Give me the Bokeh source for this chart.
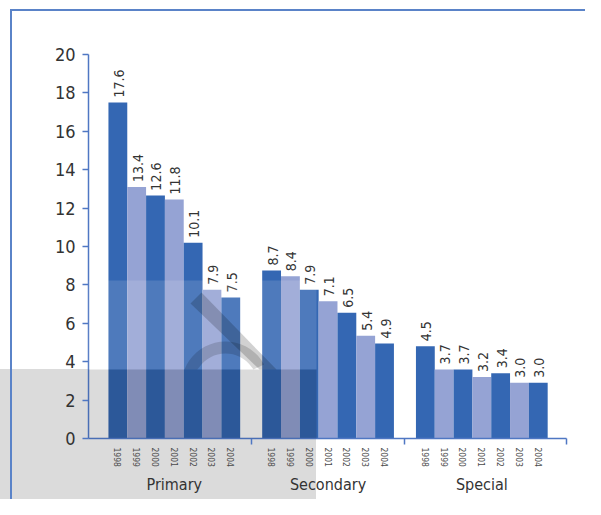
import numpy as np
from bokeh.plotting import figure
from bokeh.models import (ColumnDataSource, Range1d, LinearAxis, FixedTicker, LabelSet,
                          BoxAnnotation, PolyAnnotation)
from bokeh.core.properties import value
from bokeh.embed import file_html
from bokeh.resources import INLINE

# ---------------- data ----------------
groups = ["Primary", "Secondary", "Special"]
years = ["1998", "1999", "2000", "2001", "2002", "2003", "2004"]

# bar heights as drawn
primary = [17.5, 13.1, 12.65, 12.45, 10.2, 7.75, 7.35]
secondary = [8.75, 8.45, 7.75, 7.15, 6.55, 5.35, 4.95]
special = [4.8, 3.6, 3.6, 3.2, 3.4, 2.9, 2.9]

# printed value labels
primary_labels = ["17.6", "13.4", "12.6", "11.8", "10.1", "7.9", "7.5"]
secondary_labels = ["8.7", "8.4", "7.9", "7.1", "6.5", "5.4", "4.9"]
special_labels = ["4.5", "3.7", "3.7", "3.2", "3.4", "3.0", "3.0"]

y_ticks = [0, 2, 4, 6, 8, 10, 12, 14, 16, 18, 20]

# ---------------- style ----------------
DARK = "#3467b3"
LIGHT = "#95a3d4"
AXIS = "#4f77c3"
TEXT = "#333333"
FONT = "DejaVu Sans Condensed, Roboto, sans-serif"

GAP = 1.17
LPAD = 1.06
RPAD = 1.0
n = len(years)
span = n + GAP

xs, tops, labs, cols = [], [], [], []
for g, (vals, lbls) in enumerate(zip([primary, secondary, special],
                                     [primary_labels, secondary_labels, special_labels])):
    for i, (v, l) in enumerate(zip(vals, lbls)):
        xs.append(g * span + i + 0.5)
        tops.append(v)
        labs.append(l)
        cols.append(DARK if i % 2 == 0 else LIGHT)

source = ColumnDataSource(dict(x=xs, top=tops, label=labs, color=cols))
year_of_tick = {x: years[k % n] for k, x in enumerate(xs)}
group_centers = [g * span + n / 2 for g in range(len(groups))]
separators = [n + GAP / 2, 2 * n + 1.5 * GAP, len(groups) * n + (len(groups) - 1) * GAP + RPAD]
x_end = separators[-1]

p = figure(width=585, height=499,
           x_range=Range1d(-LPAD, x_end), y_range=Range1d(0, 21.25),
           output_backend="svg", toolbar_location=None,
           x_axis_location=None, y_axis_location=None,
           min_border_left=88, min_border_right=19, min_border_top=30, min_border_bottom=61)
p.grid.visible = False
p.outline_line_color = None
p.background_fill_color = "white"
p.border_fill_color = None
# decorative page frame lines and the grey watermark band outside the plot frame
p.styles = {
    "background-color": "white",
    "background-image": ("linear-gradient(#5a83c8, #5a83c8), linear-gradient(#5a83c8, #5a83c8), "
                         "linear-gradient(rgba(0,0,0,0.14), rgba(0,0,0,0.14))"),
    "background-size": "2px 700px, 800px 2px, 316px 300px",
    "background-position": "10px 9px, 10px 9px, 0px 369px",
    "background-repeat": "no-repeat",
}

# y axis
yax = LinearAxis(ticker=FixedTicker(ticks=y_ticks), bounds=(0, 20))
yax.axis_line_color = AXIS
yax.axis_line_width = 1.5
yax.major_tick_line_color = AXIS
yax.major_tick_line_width = 1.5
yax.major_tick_out = 6
yax.major_tick_in = 0
yax.minor_tick_line_color = None
yax.major_label_text_font = FONT
yax.major_label_text_font_size = "18px"
yax.major_label_text_color = TEXT
yax.major_label_standoff = 7
p.add_layout(yax, "left")

# x axis: line, separator ticks, year labels
xax = LinearAxis(ticker=FixedTicker(ticks=xs, minor_ticks=separators),
                 major_label_overrides=year_of_tick)
xax.axis_line_color = AXIS
xax.axis_line_width = 1.5
xax.major_tick_line_color = None
xax.major_tick_out = 0
xax.major_tick_in = 0
xax.minor_tick_line_color = AXIS
xax.minor_tick_line_width = 1.5
xax.minor_tick_out = 6
xax.minor_tick_in = 0
xax.major_label_orientation = "vertical"
xax.major_label_text_font = FONT
xax.major_label_text_font_size = "8.5px"
xax.major_label_text_color = "#4a4a4a"
xax.major_label_standoff = 3
p.add_layout(xax, "below")

# group labels axis
gax = LinearAxis(ticker=FixedTicker(ticks=group_centers),
                 major_label_overrides={c: g for c, g in zip(group_centers, groups)})
gax.axis_line_color = None
gax.major_tick_line_color = None
gax.minor_tick_line_color = None
gax.major_tick_out = 0
gax.major_tick_in = 0
gax.major_label_text_font = FONT
gax.major_label_text_font_size = "16px"
gax.major_label_text_color = TEXT
gax.major_label_standoff = 5
p.add_layout(gax, "below")

# bars
p.vbar(x="x", top="top", width=1.0, fill_color="color", line_color=None, source=source)

# value labels
p.add_layout(LabelSet(x="x", y="top", text="label", source=source, angle=np.pi / 2,
                      text_align="left", text_baseline="middle", y_offset=5, x_offset=1,
                      text_font=value(FONT), text_font_size="14px", text_color=TEXT))

# ---------------- watermark inside the plot frame (screen units relative to frame) ----------------
OX, OY = 88, 438


def sx(v):
    return v - OX


def sy(v):
    return OY - v


p.add_layout(BoxAnnotation(left=sx(0), right=sx(316), top=sy(280), bottom=sy(369),
                           left_units="screen", right_units="screen",
                           top_units="screen", bottom_units="screen",
                           fill_color="white", fill_alpha=0.13, line_color=None))
p.add_layout(BoxAnnotation(left=sx(0), right=sx(316), top=sy(369), bottom=sy(560),
                           left_units="screen", right_units="screen",
                           top_units="screen", bottom_units="screen",
                           fill_color="black", fill_alpha=0.14, line_color=None))
diag_x = [190, 201, 276, 259]
diag_y = [303, 292, 369, 369]
p.add_layout(PolyAnnotation(xs=[sx(v) for v in diag_x], ys=[sy(v) for v in diag_y],
                            xs_units="screen", ys_units="screen",
                            fill_color="black", fill_alpha=0.18, line_color=None))
t_out = np.linspace(np.pi - 0.37, 0.5, 20)
t_in = t_out[::-1]
arc_x = list(225 + 44 * np.cos(t_out)) + list(225 + 32 * np.cos(t_in))
arc_y = list(385 - 44 * np.sin(t_out)) + list(385 - 32 * np.sin(t_in))
arc_y = [min(v, 369) for v in arc_y]
p.add_layout(PolyAnnotation(xs=[sx(v) for v in arc_x], ys=[sy(v) for v in arc_y],
                            xs_units="screen", ys_units="screen",
                            fill_color="black", fill_alpha=0.15, line_color=None))

open("out.html", "w").write(file_html(p, INLINE))
